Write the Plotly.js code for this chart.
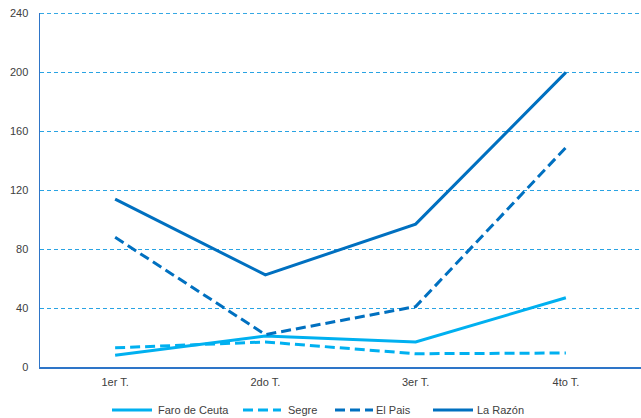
<!DOCTYPE html>
<html><head><meta charset="utf-8">
<script src="https://cdn.plot.ly/plotly-3.0.1.min.js"></script>
<style>body{margin:0;padding:0;background:#fff}#c{width:641px;height:418px}</style>
</head><body><div id="c"></div>
<script>
const categories = ["1er T.", "2do T.", "3er T.", "4to T."];
const seriesNames = ["Faro de Ceuta", "Segre", "El Pais", "La Razón"];
const faroDeCeuta = [8, 21, 17, 47];
const segre = [13, 17, 9, 9.5];
const elPais = [88, 22, 41, 149];
const laRazon = [114, 62.5, 97, 200];
const yTicks = [0, 40, 80, 120, 160, 200, 240];

const light = "#00b0f0", dark = "#0070c0";
const colors = [light, light, dark, dark];
const dashes = ["solid", "10px,5px", "10px,5px", "solid"];
const values = [faroDeCeuta, segre, elPais, laRazon];

const data = seriesNames.map((n, i) => ({
  x: categories, y: values[i], name: n, type: "scatter", mode: "lines",
  line: {color: colors[i], width: 3, dash: dashes[i]}
}));

// manual legend (pixel positions converted to paper coords)
const L = 40, W = 601, B = 367, H = 354;
const px = v => (v - L) / W;
const legY = (B - 410) / H;
const legLines = [[112, 152], [243, 281], [335, 373], [433, 473]];
const legText = [157, 287, 375, 476];
const shapes = [{type: "line", xref: "paper", yref: "y", x0: 0, x1: 1, y0: 240, y1: 240,
  line: {color: "#29a3e3", width: 1, dash: "4px,3px"}}];
const annotations = [];
seriesNames.forEach((n, i) => {
  shapes.push({type: "line", xref: "paper", yref: "paper", x0: px(legLines[i][0]), x1: px(legLines[i][1]),
    y0: legY, y1: legY, line: {color: colors[i], width: 3, dash: dashes[i]}});
  annotations.push({xref: "paper", yref: "paper", x: px(legText[i]), y: legY, text: n,
    showarrow: false, xanchor: "left", yanchor: "middle", xshift: -1,
    font: {size: 11, color: "#404040"}});
});

const layout = {
  width: 641, height: 418,
  margin: {l: 40, r: 0, t: 13, b: 51, autoexpand: false},
  paper_bgcolor: "#fff", plot_bgcolor: "#fff",
  font: {family: "Liberation Sans, Arial, sans-serif", size: 11, color: "#404040"},
  showlegend: false,
  shapes: shapes, annotations: annotations,
  xaxis: {type: "category", range: [-0.5, 3.5], showgrid: false, zeroline: false,
    showline: true, linecolor: "#2e75c8", linewidth: 1.5, ticks: "", ticklen: 0,
    ticklabelstandoff: 4, automargin: false, tickfont: {size: 11, color: "#404040"}},
  yaxis: {range: [0, 240.3], tickvals: yTicks, ticktext: yTicks.map(String),
    showgrid: true, gridcolor: "#29a3e3", gridwidth: 1, griddash: "4px,3px",
    zeroline: false, showline: true, linecolor: "#2e75c8", linewidth: 1.5,
    automargin: false, ticks: "", ticklabelstandoff: 8, tickfont: {size: 11, color: "#404040"}}
};
Plotly.newPlot("c", data, layout, {displayModeBar: false, staticPlot: true});
</script>
</body></html>
